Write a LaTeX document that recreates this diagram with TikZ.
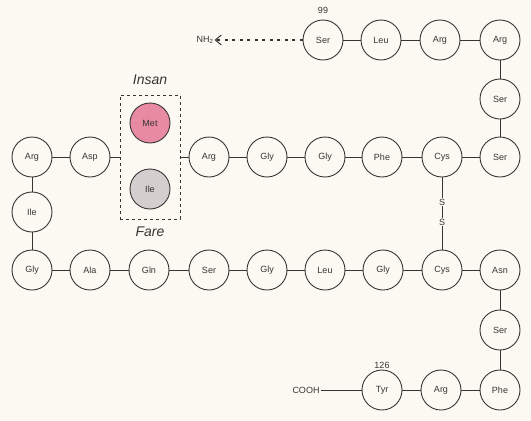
\documentclass[tikz,border=0pt]{standalone}
\usepackage{fontspec}
\setmainfont{Liberation Sans}
\usetikzlibrary{arrows.meta}
\definecolor{paper}{RGB}{251,249,242}
\definecolor{ink}{RGB}{55,52,52}
\definecolor{metpink}{RGB}{232,138,162}
\definecolor{ilegray}{RGB}{212,206,206}
\tikzset{
  aa/.style={circle, draw=ink, line width=0.9pt, minimum size=40pt, inner sep=0pt,
             font=\fontsize{9}{10}\selectfont, text=ink, fill=paper},
  bond/.style={draw=ink, line width=0.9pt},
  lbl/.style={font=\fontsize{9}{10}\selectfont, text=ink, inner sep=1pt},
  species/.style={font=\fontsize{14}{15}\selectfont\itshape, text=ink}
}
\begin{document}
\begin{tikzpicture}[x=1pt,y=-1pt]
\fill[paper] (0,0) rectangle (531,421);
\useasboundingbox (0,0) rectangle (531,421);

% top row (residue 99 onwards)
\node[aa] (s99)  at (323,40) {Ser};
\node[aa] (l100) at (381,40) {Leu};
\node[aa] (r101) at (440,40) {Arg};
\node[aa] (r102) at (500,40) {Arg};
\node[aa] (s103) at (500,99) {Ser};

% middle row
\node[aa] (s104) at (500,157) {Ser};
\node[aa] (c105) at (442,157) {Cys};
\node[aa] (f106) at (382,157) {Phe};
\node[aa] (g107) at (325,157) {Gly};
\node[aa] (g108) at (267,157) {Gly};
\node[aa] (r109) at (209,157) {Arg};
\node[draw=ink, dashed, line width=0.8pt, minimum width=60pt, minimum height=124pt,
      inner sep=0pt] (var) at (150,157) {};
\node[aa, fill=metpink] (met) at (150,123) {Met};
\node[aa, fill=ilegray] (ile) at (150,189) {Ile};
\node[species] (insan) at (150,80) {Insan};
\node[species] (fare)  at (150,232) {Fare};
\node[aa] (d111) at (90,157) {Asp};
\node[aa] (r112) at (32,157) {Arg};
\node[aa] (i113) at (32,212) {Ile};

% bottom row
\node[aa] (g114) at (32,270)  {Gly};
\node[aa] (a115) at (90,270)  {Ala};
\node[aa] (q116) at (149,270) {Gln};
\node[aa] (s117) at (209,270) {Ser};
\node[aa] (g118) at (267,270) {Gly};
\node[aa] (l119) at (325,270) {Leu};
\node[aa] (g120) at (383,270) {Gly};
\node[aa] (c121) at (442,270) {Cys};
\node[aa] (n122) at (500,270) {Asn};
\node[aa] (s123) at (500,330) {Ser};
\node[aa] (f124) at (500,390) {Phe};
\node[aa] (r125) at (441,390) {Arg};
\node[aa] (y126) at (382,390) {Tyr};

% termini and numbering
\node[lbl] (nh2)  at (205,40)  {NH\textsubscript{2}};
\node[lbl] (cooh) at (306,390) {COOH};
\node[lbl] (n99)  at (323,10)  {99};
\node[lbl] (n126) at (382,365) {126};

% disulfide bridge
\node[lbl] (sa) at (442,202) {S};
\node[lbl] (sb) at (442,222) {S};

% peptide bonds
\draw[bond] (s99) -- (l100) -- (r101) -- (r102) -- (s103) -- (s104)
  -- (c105) -- (f106) -- (g107) -- (g108) -- (r109) -- (var)
  (var) -- (d111) -- (r112) -- (i113) -- (g114) -- (a115) -- (q116)
  -- (s117) -- (g118) -- (l119) -- (g120) -- (c121) -- (n122) -- (s123)
  -- (f124) -- (r125) -- (y126) -- (cooh);
\draw[bond] (c105) -- (sa) -- (sb) -- (c121);

% chain continues towards the N-terminus
\draw[draw=ink, line width=1.2pt, dash pattern=on 3pt off 4.5pt,
      -{Straight Barb[length=6pt, width=10pt, line width=1pt]}] (s99) -- (nh2);
\end{tikzpicture}
\end{document}
